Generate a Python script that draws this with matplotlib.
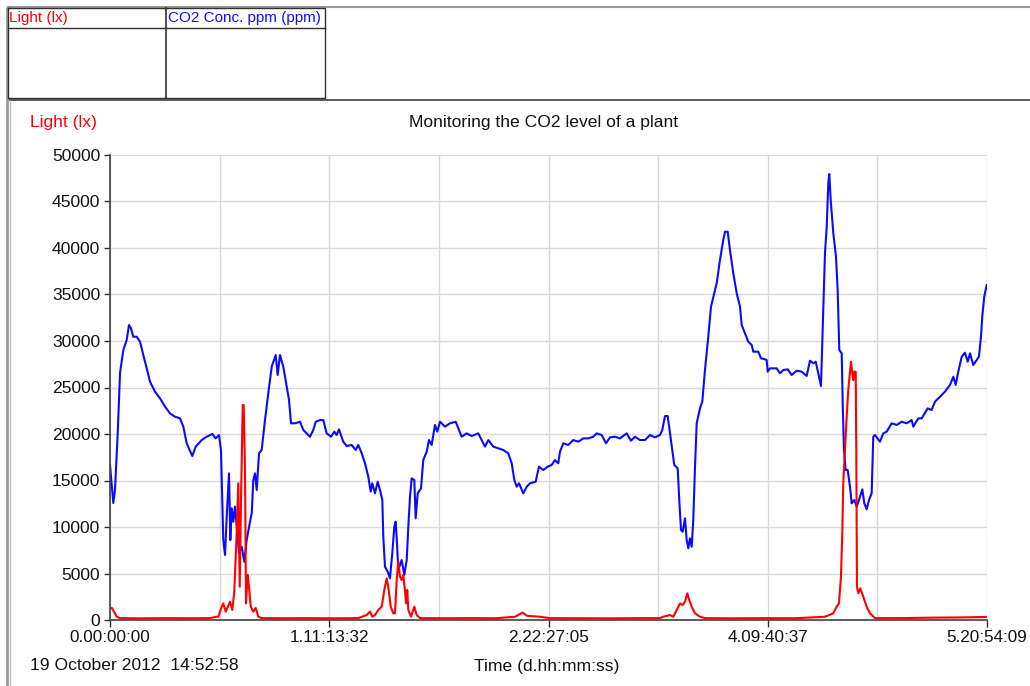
import numpy as np
import matplotlib
matplotlib.use("Agg")
import matplotlib.pyplot as plt

plt.rcParams['font.family'] = ['Liberation Sans', 'DejaVu Sans']

# ---------------- data (time in hours since start) ----------------
total_hours = 507249 / 3600.0  # 5.20:54:09

co2_t = [0.00, 0.53, 0.80, 1.24, 1.61, 2.14, 2.68, 3.05, 3.37, 3.74, 4.29, 4.82, 5.35, 5.90, 6.43,
         7.23, 8.03, 8.84, 9.64, 10.44, 11.25, 11.78, 12.32, 13.22, 13.77, 14.73, 15.54, 16.44, 16.98,
         17.51, 17.83, 18.04, 18.20, 18.48, 18.75, 19.12, 19.33, 19.55, 19.81, 20.08, 20.45, 20.73,
         21.16, 21.58, 21.96, 22.49, 22.77, 23.02, 23.30, 23.57, 23.94, 24.37, 24.90, 25.43, 25.98,
         26.62, 26.94, 27.31, 27.84, 28.39, 28.76, 29.08, 29.72, 30.53, 31.06, 31.60, 32.13, 32.66,
         33.05, 33.74, 34.27, 34.81, 35.51, 36.04, 36.42, 36.79, 37.48, 38.03, 38.83, 39.47, 39.89,
         40.44, 40.97, 41.50, 41.88, 42.14, 42.57, 43.01, 43.38, 43.75, 43.91, 44.18, 44.62, 44.98,
         45.35, 45.68, 45.90, 46.11, 46.32, 46.59, 46.86, 47.28, 47.67, 47.93, 48.20, 48.47, 48.89,
         49.11, 49.44, 49.97, 50.33, 50.88, 51.25, 51.68, 52.21, 52.58, 53.02, 53.82, 54.62, 55.54,
         55.96, 56.50, 57.31, 58.11, 59.17, 59.72, 60.25, 60.78, 61.58, 62.38, 63.19, 63.99, 64.54,
         64.96, 65.34, 65.71, 66.40, 66.95, 67.48, 68.39, 68.92, 69.61, 70.32, 70.96, 71.49, 72.02,
         72.30, 72.83, 73.63, 74.43, 75.24, 76.04, 76.84, 77.65, 78.19, 79.00, 79.69, 80.33, 81.13,
         81.94, 83.01, 83.70, 84.35, 85.15, 85.95, 86.76, 87.56, 88.36, 88.73, 89.17, 89.60, 89.97,
         90.24, 90.66, 91.21, 91.46, 91.74, 92.01, 92.38, 92.65, 92.91, 93.18, 93.46, 93.71, 93.99,
         94.26, 94.79, 95.16, 95.59, 96.12, 96.56, 97.47, 98.00, 98.53, 98.81, 99.24, 99.61, 100.14,
         100.69, 101.22, 101.49, 102.02, 102.55, 103.10, 103.35, 104.16, 104.59, 105.23, 105.50,
         105.67, 106.04, 106.57, 107.11, 107.64, 108.17, 108.88, 109.52, 110.33, 111.13, 111.93,
         112.46, 113.00, 113.38, 113.80, 114.23, 114.50, 114.71, 114.87, 115.15, 115.40, 115.56,
         115.79, 116.21, 116.64, 116.91, 117.17, 117.56, 117.72, 117.92, 118.20, 118.52, 118.89,
         119.16, 119.58, 119.97, 120.33, 120.87, 121.19, 121.57, 121.94, 122.37, 122.63, 122.90,
         123.71, 124.24, 124.78, 125.59, 126.39, 127.19, 128.00, 128.80, 129.06, 129.86, 130.41,
         131.37, 132.01, 132.54, 133.35, 134.15, 134.95, 135.49, 135.87, 136.29, 136.84, 137.36,
         137.80, 138.17, 138.70, 139.24, 139.61, 139.93, 140.14, 140.46, 140.85]

co2_ppm = [16670, 12580, 13980, 20100, 26560, 29030, 30100, 31720, 31360, 30460, 30460, 29930, 28490,
           27060, 25620, 24550, 23840, 22940, 22220, 21860, 21680, 20790, 19000, 17630, 18640, 19350,
           19710, 20000, 19530, 19890, 18280, 12900, 8600, 6990, 11110, 15770, 8600, 12010, 10570,
           12190, 9320, 7170, 7880, 6270, 8600, 10570, 11470, 15050, 15770, 13980, 17920, 18280, 21500,
           24370, 27240, 28490, 26340, 28490, 27240, 25090, 23660, 21150, 21150, 21320, 20430, 20070,
           19710, 20430, 21320, 21500, 21500, 20070, 19710, 20250, 19890, 20500, 19170, 18710, 18820,
           18280, 18820, 17920, 16850, 15410, 13800, 14700, 13620, 14870, 13980, 12900, 8960, 5730,
           5190, 4480, 7170, 10040, 10570, 8240, 5380, 5910, 6450, 4840, 6450, 10040, 13260, 15230,
           15050, 10930, 13620, 14160, 17200, 18100, 19350, 18820, 20970, 20250, 21320, 20790, 21150,
           21320, 20610, 19710, 20070, 19780, 20070, 19350, 18640, 19350, 18640, 18460, 18280, 17920,
           16850, 15050, 14330, 14700, 13620, 14330, 14700, 14870, 16490, 16130, 16490, 16670, 17200,
           16850, 18100, 19000, 18820, 19350, 19170, 19530, 19530, 19710, 20070, 19890, 19000, 19640,
           19710, 19530, 20070, 19280, 19710, 19350, 19350, 19890, 19640, 19890, 20430, 21930, 21930,
           20070, 18640, 16670, 16310, 12900, 9680, 9490, 10930, 8600, 7710, 8780, 7880, 10750, 16490,
           21150, 22760, 23470, 26880, 30460, 33690, 36200, 38710, 40860, 41750, 41750, 39780, 37280,
           35130, 33690, 31720, 30820, 29930, 29570, 28850, 28850, 28140, 28030, 27960, 26700, 27060,
           27060, 27060, 26520, 26880, 26950, 26340, 26810, 26700, 26240, 27880, 27600, 27780, 26520,
           25160, 31180, 35480, 39430, 42290, 46950, 47960, 45160, 41580, 39070, 35480, 29030, 28670,
           23300, 18280, 16130, 16130, 14330, 12540, 12900, 12190, 12900, 14050, 12540, 11900, 12900,
           13620, 19710, 19890, 19170, 20070, 20250, 21150, 20970, 21320, 21150, 21500, 20790, 21680,
           21680, 22760, 22580, 23470, 24010, 24550, 25270, 26160, 25270, 26700, 28310, 28740, 27780,
           28670, 27420, 27960, 28310, 30460, 32610, 34760, 36020]

light_t = [0.00, 0.32, 1.08, 1.61, 5.0, 9.0, 13.0, 16.0, 17.14, 17.40, 17.95, 18.20, 18.59, 19.28,
           19.65, 19.97, 20.35, 20.61, 20.84, 21.05, 21.32, 21.48, 21.69, 21.85, 22.12, 22.33, 22.61,
           23.02, 23.41, 23.83, 24.42, 28.0, 32.0, 36.0, 39.89, 41.24, 41.77, 42.14, 42.57, 43.11,
           43.65, 44.07, 44.46, 44.71, 45.10, 45.52, 45.79, 46.06, 46.32, 46.59, 46.86, 47.12, 47.39,
           47.56, 47.76, 47.93, 48.36, 48.89, 49.27, 49.80, 54.0, 58.0, 62.0, 65.07, 66.30, 67.00,
           69.08, 70.69, 75.0, 80.0, 85.0, 88.36, 88.89, 89.97, 90.50, 91.05, 91.58, 92.01, 92.38,
           92.75, 93.07, 93.46, 93.99, 94.79, 95.59, 100.0, 105.0, 110.0, 114.87, 116.21, 116.75,
           117.12, 117.44, 117.65, 117.81, 118.08, 118.36, 118.61, 119.05, 119.26, 119.42, 119.58,
           119.81, 119.90, 120.01, 120.22, 120.54, 121.02, 121.57, 122.10, 122.90, 127.0, 132.0,
           137.0, 140.90]

light_lx = [1200, 1300, 350, 200, 180, 200, 190, 200, 350, 350, 1430, 1790, 900, 1970, 1080, 3050,
            9320, 14700, 3580, 12900, 23120, 23120, 16130, 1790, 4840, 3580, 1430, 900, 1290, 350,
            200, 190, 200, 180, 200, 540, 900, 350, 540, 1080, 1430, 3230, 4480, 3580, 1430, 720,
            720, 4300, 6270, 4660, 4300, 4840, 3230, 1790, 3230, 1080, 350, 1430, 540, 200, 190,
            200, 190, 350, 790, 450, 350, 200, 190, 180, 200, 200, 350, 540, 350, 1080, 1790, 1610,
            1970, 2870, 2150, 1430, 720, 350, 200, 180, 200, 190, 350, 720, 1430, 1790, 4660, 9320,
            14700, 18280, 21860, 24730, 27780, 26520, 25800, 26700, 26700, 18280, 3580, 2870, 3410,
            2510, 1430, 720, 200, 200, 250, 280, 330]

y_ticks = [0, 5000, 10000, 15000, 20000, 25000, 30000, 35000, 40000, 45000, 50000]
x_tick_labels = ["0.00:00:00", "1.11:13:32", "2.22:27:05", "4.09:40:37", "5.20:54:09"]

# ---------------- layout ----------------
W, H = 1030, 686
fig = plt.figure(figsize=(W / 100, H / 100), dpi=100)
fig.patch.set_facecolor('white')

# frame overlay in pixel coordinates
ov = fig.add_axes([0, 0, 1, 1])
ov.set_xlim(0, W)
ov.set_ylim(H, 0)
ov.axis('off')
ov.plot([7, W], [7, 7], color='#9a9a9a', lw=1.5, solid_capstyle='butt')
ov.plot([7, 7], [7, H], color='#9a9a9a', lw=2.0, solid_capstyle='butt')
ov.plot([9, W], [100, 100], color='#404040', lw=1.2, solid_capstyle='butt')
ov.plot([9.5, 9.5], [100, H], color='#c0c0c0', lw=1.0, solid_capstyle='butt')
# legend table
tc = '#303030'
ov.plot([8, 325, 325, 8, 8], [7.5, 7.5, 98, 98, 7.5], color=tc, lw=1.0)
ov.plot([8, 325], [28, 28], color=tc, lw=1.0)
ov.plot([165.5, 165.5], [7.5, 98], color=tc, lw=1.2)

ax = fig.add_axes([110 / W, 1 - 620 / H, (987 - 110) / W, (620 - 155) / H])
ax.set_zorder(2)

ax.plot(co2_t, co2_ppm, color='#0a0aff', lw=1.5, zorder=3)
ax.plot(light_t, light_lx, color='#ff0000', lw=1.5, zorder=4)

ax.set_xlim(0, total_hours)
ax.set_ylim(0, 50000)

major_x = np.linspace(0, total_hours, len(x_tick_labels))
minor_x = np.linspace(0, total_hours, 2 * len(x_tick_labels) - 1)
ax.set_xticks(major_x)
ax.set_xticklabels(x_tick_labels)
ax.set_xticks(minor_x, minor=True)
ax.set_yticks(y_ticks)
ax.set_yticklabels([str(v) for v in y_ticks])

ax.grid(False)
for xv in minor_x:
    ax.axvline(xv, color='#d9d9d9', lw=1.0, zorder=1)
for yv in y_ticks:
    ax.axhline(yv, color='#d9d9d9', lw=1.0, zorder=1)

ax.tick_params(axis='x', which='major', direction='out', length=5, width=1, color='#303030',
               labelsize=12.3, pad=2, labelcolor='#111111')
ax.tick_params(axis='x', which='minor', length=0)
ax.tick_params(axis='y', direction='out', length=4, width=1, color='#303030',
               labelsize=12.6, pad=3, labelcolor='#111111')

for s in ['top', 'right']:
    ax.spines[s].set_visible(False)
for s in ['left', 'bottom']:
    ax.spines[s].set_color('#404040')
    ax.spines[s].set_linewidth(1.2)
    ax.spines[s].set_zorder(5)

def fx(px):
    return px / W

def fy(py):
    return 1 - py / H

fig.text(fx(30), fy(123), "Light (lx)", color='#ff0000', fontsize=12.6, ha='left', va='center')
fig.text(fx(544), fy(123), "Monitoring the CO2 level of a plant", color='#111111', fontsize=12.6,
         ha='center', va='center')
fig.text(fx(30), fy(666), "19 October 2012  14:52:58", color='#111111', fontsize=12.6,
         ha='left', va='center')
fig.text(fx(547), fy(666), "Time (d.hh:mm:ss)", color='#111111', fontsize=12.6,
         ha='center', va='center')
fig.text(fx(9), fy(18), "Light (lx)", color='#ff0000', fontsize=11, ha='left', va='center')
fig.text(fx(168), fy(18), "CO2 Conc. ppm (ppm)", color='#1010ff', fontsize=11, ha='left',
         va='center')

fig.savefig("out.png", dpi=100, facecolor='white')
